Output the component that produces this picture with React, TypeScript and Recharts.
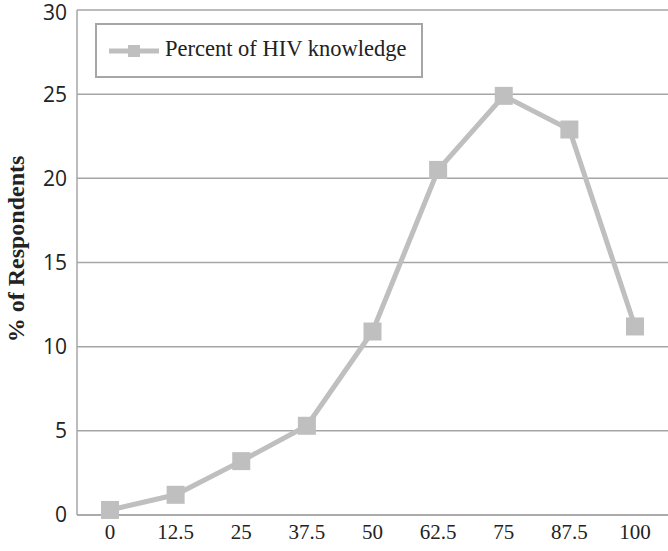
import React from "react";
import { LineChart, Line, XAxis, YAxis, CartesianGrid } from "recharts";

const categories = ["0", "12.5", "25", "37.5", "50", "62.5", "75", "87.5", "100"];
const percentValues = [0.3, 1.2, 3.2, 5.3, 10.9, 20.5, 24.9, 22.9, 11.2];
const yTicks = [0, 5, 10, 15, 20, 25, 30];
const seriesName = "Percent of HIV knowledge";
const yTitle = "% of Respondents";

const data = categories.map((c, i) => ({ score: c, value: percentValues[i] }));

const LINE = "#bfbfbf";
const GRID = "#a6a6a6";

const SquareDot = (props: any) => {
  const { cx, cy } = props;
  if (cx == null || cy == null) return null;
  return <rect x={cx - 9} y={cy - 9} width={18} height={18} fill={LINE} />;
};

const LegendBox = () => (
  <div
    style={{
      position: "absolute",
      left: 95,
      top: 23,
      width: 324,
      height: 51,
      border: "2px solid #a6a6a6",
      background: "#fff",
      boxSizing: "content-box",
    }}
  >
    <svg width={60} height={51} style={{ position: "absolute", left: 10, top: 0 }}>
      <line x1={2} y1={26} x2={52} y2={26} stroke={LINE} strokeWidth={5} />
      <rect x={21} y={20} width={12} height={12} fill={LINE} />
    </svg>
    <span
      style={{
        position: "absolute",
        left: 68,
        top: 11,
        fontFamily: "'Liberation Serif', serif",
        fontSize: 22.5,
        color: "#222",
        whiteSpace: "nowrap",
        lineHeight: "26px",
      }}
    >
      {seriesName}
    </span>
  </div>
);

const YTitle = () => {
  const cx = 16;
  const cy = 249;
  return (
    <text
      x={cx}
      y={cy}
      transform={`rotate(-90, ${cx}, ${cy})`}
      textAnchor="middle"
      dominantBaseline="central"
      fontFamily="'Liberation Serif', serif"
      fontWeight="bold"
      fontSize={24}
      fill="#222"
    >
      {yTitle}
    </text>
  );
};

export default function App() {
  return (
    <div style={{ position: "absolute", left: 0, top: 0, width: 668, height: 551, background: "#fff" }}>
      <LineChart width={668} height={551} data={data} margin={{ top: 10, right: 0, bottom: 0, left: 0 }}>
        <CartesianGrid horizontal={true} vertical={false} stroke={GRID} strokeWidth={1.5} />
        <XAxis
          dataKey="score"
          height={36}
          padding={{ left: 33, right: 33 }}
          tickLine={false}
          tickSize={0}
          tickMargin={9}
          axisLine={{ stroke: GRID, strokeWidth: 1.5 }}
          tick={{ fontFamily: "'Liberation Serif', serif", fontSize: 21, fill: "#222" }}
          interval={0}
        />
        <YAxis
          width={77}
          domain={[0, 30]}
          ticks={yTicks}
          tickLine={false}
          tickSize={0}
          tickMargin={10}
          axisLine={{ stroke: GRID, strokeWidth: 1.5 }}
          tick={{ fontFamily: "'Open Sans', sans-serif", fontSize: 21, fill: "#222" }}
          label={{ content: YTitle }}
        />
        <Line
          dataKey="value"
          name={seriesName}
          stroke={LINE}
          strokeWidth={5}
          dot={<SquareDot />}
          activeDot={false}
          isAnimationActive={false}
        />
      </LineChart>
      <LegendBox />
    </div>
  );
}
